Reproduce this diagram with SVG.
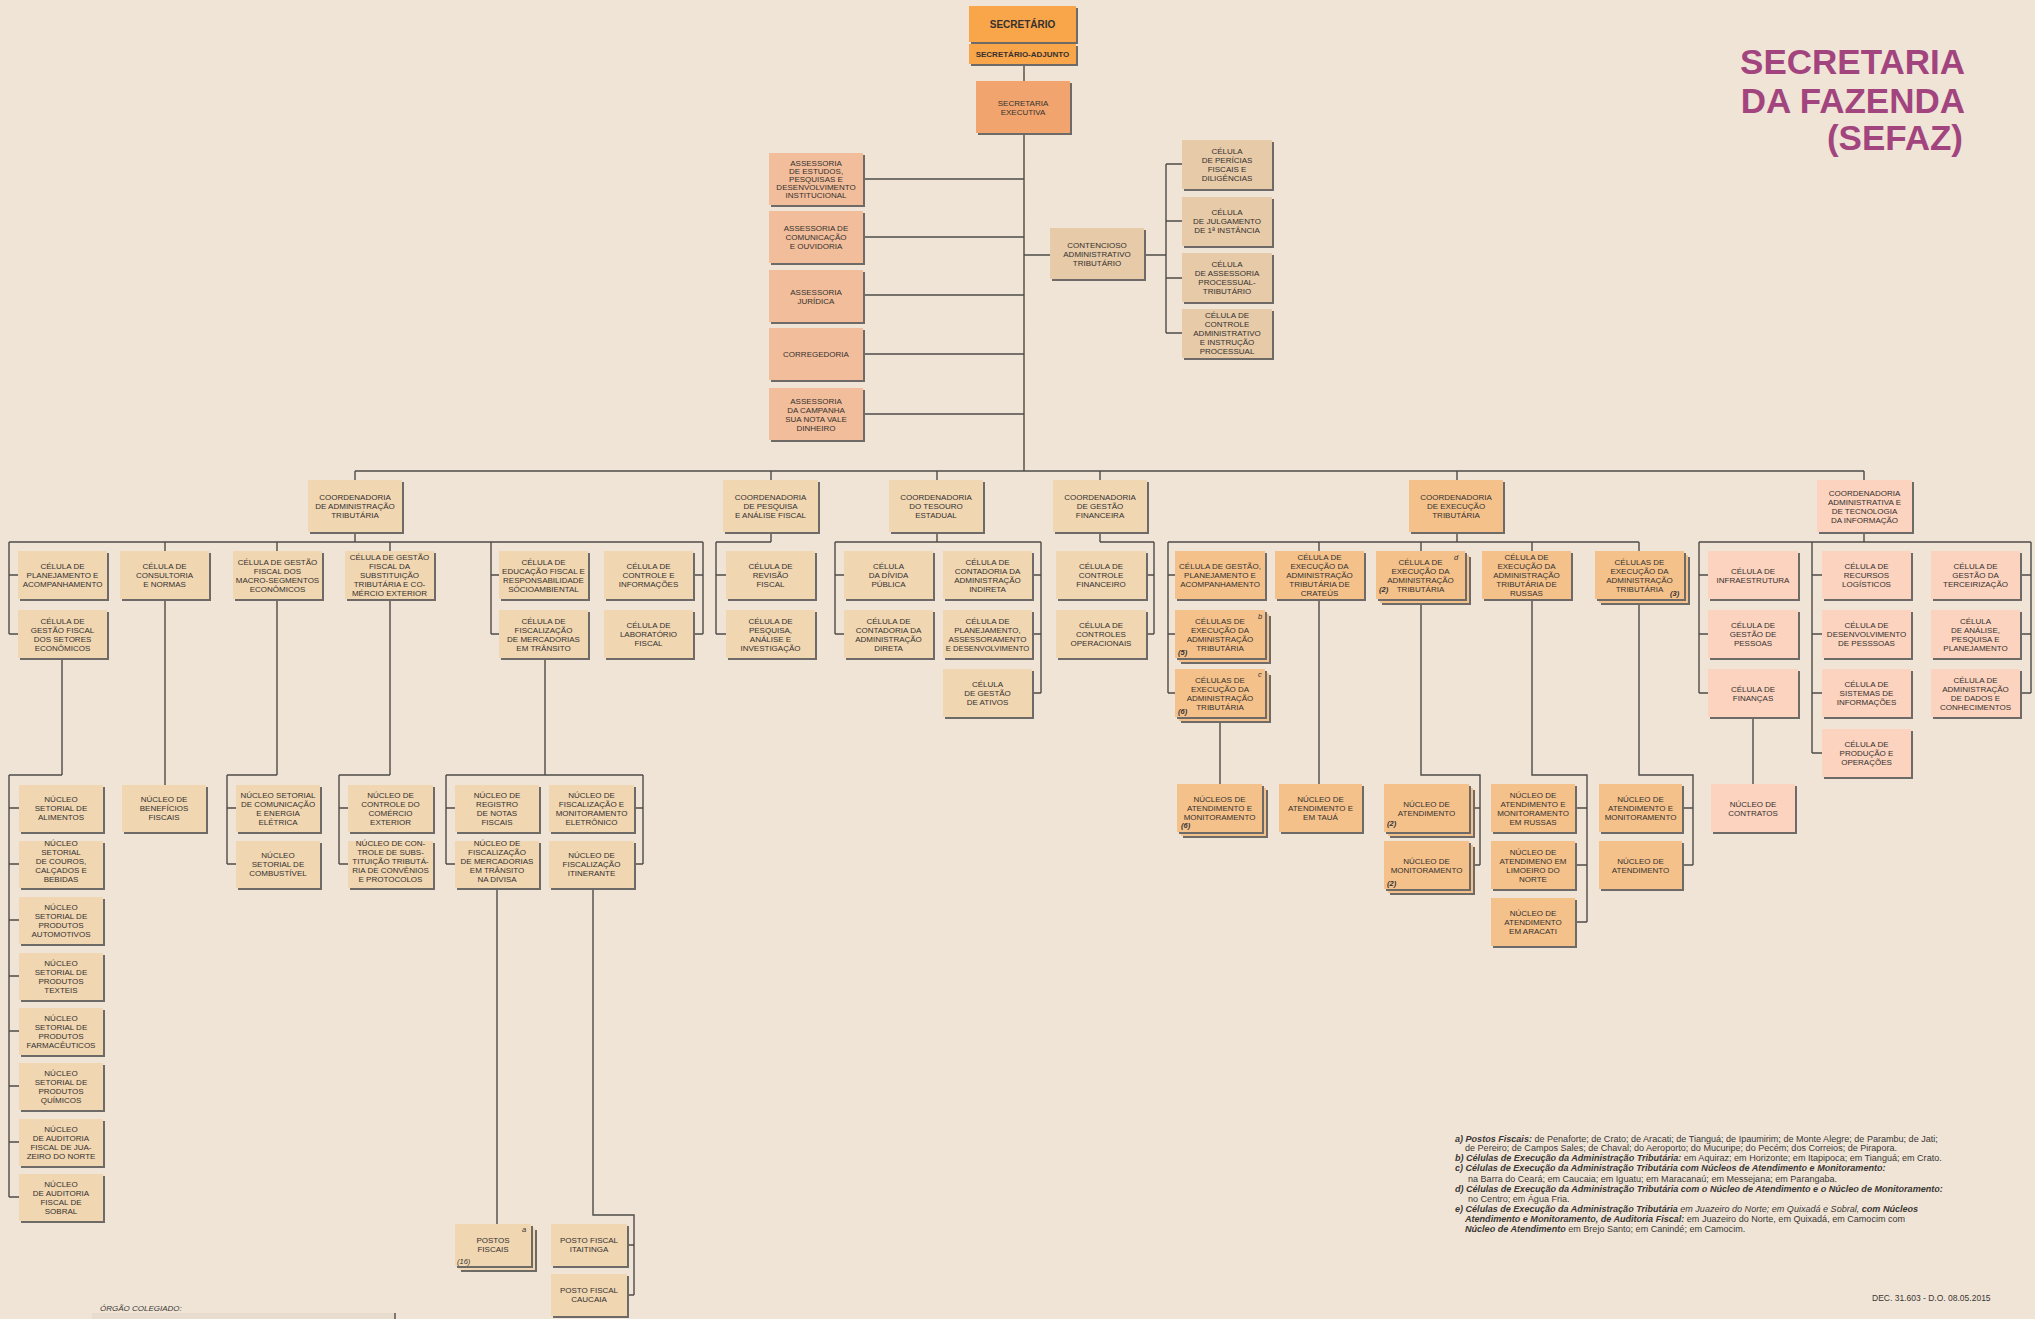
<svg xmlns="http://www.w3.org/2000/svg" width="2035" height="1319" viewBox="0 0 2035 1319">
<style>
.sh{fill:#6e6a67}
.o1{fill:#f9a54a}
.o2{fill:#f1a46d}
.pe{fill:#f2bd9a}
.tn{fill:#e7caa8}
.lt{fill:#f1d6b2}
.or{fill:#f5c18b}
.pk{fill:#fcd3be}
.t{font-family:"Liberation Sans",Arial,sans-serif;font-size:8px;fill:#34312e;text-anchor:middle}
.b{font-weight:bold}
.sup{font-family:"Liberation Sans",Arial,sans-serif;font-size:7.5px;fill:#333;font-style:italic}
.num{font-family:"Liberation Sans",Arial,sans-serif;font-size:7.5px;fill:#333;font-style:italic;font-weight:bold}
.ln{fill:none;stroke:#4f4b48;stroke-width:1.4}
.fn{font-family:"Liberation Sans",Arial,sans-serif;font-size:9.05px;fill:#3a3734}
.bi{font-weight:bold;font-style:italic}
.it{font-style:italic}
.ttl{font-family:"Liberation Sans",Arial,sans-serif;font-size:35px;font-weight:bold;fill:#a2457f;text-anchor:end}
</style>
<rect x="0" y="0" width="2035" height="1319" fill="#f0e4d6"/>

<g id="title">
<text class="ttl" x="1965" y="74">SECRETARIA</text>
<text class="ttl" x="1965" y="113">DA FAZENDA</text>
<text class="ttl" x="1963" y="150">(SEFAZ)</text>
</g>

<g id="connectors" class="ln">
<path d="M1024 64V81 M1024 133V471 M863 179H1024 M863 237H1024 M863 295H1024 M863 354H1024 M863 414H1024 M1024 255H1050 M1144 255H1166 M1166 164V333 M1166 164H1182 M1166 221H1182 M1166 278H1182 M1166 333H1182"/>
<path d="M355 471H1864 M355 471V480 M771 471V480 M937 471V480 M1100 471V480 M1457 471V480 M1864 471V480"/>
<path d="M355 532V542 M9 542H703 M9 542V634 M9 575H18 M9 634H18 M165 542V551 M277 542V551 M390 542V551 M491 542V634 M491 575H499 M491 634H499 M703 542V634 M693 575H703 M693 634H703"/>
<path d="M771 532V542 M716 542H771 M716 542V634 M716 575H726 M716 634H726"/>
<path d="M937 532V542 M835 542H1041 M835 542V634 M835 575H844 M835 634H844 M1041 542V693 M1032 575H1041 M1032 634H1041 M1032 693H1041"/>
<path d="M1100 532V542 M1100 542H1154 M1154 542V634 M1146 575H1154 M1146 634H1154"/>
<path d="M1457 532V542 M1168 542H1639 M1168 542V693 M1168 575H1175 M1168 634H1175 M1168 693H1175 M1319 542V551 M1421 542V551 M1532 542V551 M1639 542V551"/>
<path d="M1864 532V542 M1699 542H2031 M1699 542V693 M1699 575H1708 M1699 634H1708 M1699 693H1708 M1812 542V753 M1812 575H1822 M1812 634H1822 M1812 693H1822 M1812 753H1822 M2031 542V693 M2020 575H2031 M2020 634H2031 M2020 693H2031"/>
<path d="M62 658V775 M9 775H62 M9 775V1197 M9 808H19 M9 864H19 M9 920H19 M9 976H19 M9 1031H19 M9 1086H19 M9 1142H19 M9 1197H19"/>
<path d="M165 599V785 M277 599V775 M227 775H277 M227 775V864 M227 808H236 M227 864H236 M390 599V775 M339 775H390 M339 775V864 M339 808H348 M339 864H348"/>
<path d="M545 658V775 M446 775H643 M446 775V864 M446 808H455 M446 864H455 M643 775V864 M634 808H643 M634 864H643 M497 888V1224 M593 888V1215H634V1295 M627 1245H634 M627 1295H634"/>
<path d="M1220 717V784 M1319 599V784 M1421 599V775H1480V865 M1469 808H1480 M1469 865H1480 M1532 599V775H1587V922 M1575 808H1587 M1575 865H1587 M1575 922H1587 M1639 599V775H1693V865 M1682 808H1693 M1682 865H1693 M1753 717V784"/>
</g>

<g id="n-secretario"><rect class="sh" x="971" y="8" width="107" height="36"/><rect class="o1" x="969" y="6" width="107" height="36"/><text class="t b" style="font-size:10px" x="1022.5" y="27.5">SECRETÁRIO</text></g>
<g id="n-adjunto"><rect class="sh" x="971" y="46" width="107" height="20"/><rect class="o1" x="969" y="44" width="107" height="20"/><text class="t b" x="1022.5" y="57">SECRETÁRIO-ADJUNTO</text></g>
<g id="n-executiva"><rect class="sh" x="978" y="83" width="94" height="52"/><rect class="o2" x="976" y="81" width="94" height="52"/><text class="t" x="1023" y="105.5">SECRETARIA<tspan x="1023" dy="9">EXECUTIVA</tspan></text></g>

<g id="n-ass-estudos"><rect class="sh" x="771" y="155" width="94" height="52"/><rect class="pe" x="769" y="153" width="94" height="52"/><text class="t" x="816" y="166">ASSESSORIA<tspan x="816" dy="8">DE ESTUDOS,</tspan><tspan x="816" dy="8">PESQUISAS E</tspan><tspan x="816" dy="8">DESENVOLVIMENTO</tspan><tspan x="816" dy="8">INSTITUCIONAL</tspan></text></g>
<g id="n-ass-comunicacao"><rect class="sh" x="771" y="213" width="94" height="52"/><rect class="pe" x="769" y="211" width="94" height="52"/><text class="t" x="816" y="231">ASSESSORIA DE<tspan x="816" dy="9">COMUNICAÇÃO</tspan><tspan x="816" dy="9">E OUVIDORIA</tspan></text></g>
<g id="n-ass-juridica"><rect class="sh" x="771" y="272" width="94" height="52"/><rect class="pe" x="769" y="270" width="94" height="52"/><text class="t" x="816" y="294.5">ASSESSORIA<tspan x="816" dy="9">JURÍDICA</tspan></text></g>
<g id="n-corregedoria"><rect class="sh" x="771" y="330" width="94" height="52"/><rect class="pe" x="769" y="328" width="94" height="52"/><text class="t" x="816" y="357">CORREGEDORIA</text></g>
<g id="n-ass-campanha"><rect class="sh" x="771" y="390" width="94" height="52"/><rect class="pe" x="769" y="388" width="94" height="52"/><text class="t" x="816" y="403.5">ASSESSORIA<tspan x="816" dy="9">DA CAMPANHA</tspan><tspan x="816" dy="9">SUA NOTA VALE</tspan><tspan x="816" dy="9">DINHEIRO</tspan></text></g>

<g id="n-contencioso"><rect class="sh" x="1052" y="230" width="94" height="51"/><rect class="tn" x="1050" y="228" width="94" height="51"/><text class="t" x="1097" y="247.5">CONTENCIOSO<tspan x="1097" dy="9">ADMINISTRATIVO</tspan><tspan x="1097" dy="9">TRIBUTÁRIO</tspan></text></g>
<g id="n-pericias"><rect class="sh" x="1184" y="142" width="90" height="49"/><rect class="tn" x="1182" y="140" width="90" height="49"/><text class="t" x="1227" y="154">CÉLULA<tspan x="1227" dy="9">DE PERÍCIAS</tspan><tspan x="1227" dy="9">FISCAIS E</tspan><tspan x="1227" dy="9">DILIGÊNCIAS</tspan></text></g>
<g id="n-julgamento"><rect class="sh" x="1184" y="199" width="90" height="49"/><rect class="tn" x="1182" y="197" width="90" height="49"/><text class="t" x="1227" y="215.4">CÉLULA<tspan x="1227" dy="9">DE JULGAMENTO</tspan><tspan x="1227" dy="9">DE 1ª INSTÂNCIA</tspan></text></g>
<g id="n-assessoria-proc"><rect class="sh" x="1184" y="255" width="90" height="49"/><rect class="tn" x="1182" y="253" width="90" height="49"/><text class="t" x="1227" y="266.9">CÉLULA<tspan x="1227" dy="9">DE ASSESSORIA</tspan><tspan x="1227" dy="9">PROCESSUAL-</tspan><tspan x="1227" dy="9">TRIBUTÁRIO</tspan></text></g>
<g id="n-controle-adm"><rect class="sh" x="1184" y="311" width="90" height="49"/><rect class="tn" x="1182" y="309" width="90" height="49"/><text class="t" x="1227" y="318.4">CÉLULA DE<tspan x="1227" dy="9">CONTROLE</tspan><tspan x="1227" dy="9">ADMINISTRATIVO</tspan><tspan x="1227" dy="9">E INSTRUÇÃO</tspan><tspan x="1227" dy="9">PROCESSUAL</tspan></text></g>

<g id="n-cat"><rect class="sh" x="310" y="482" width="94" height="52"/><rect class="lt" x="308" y="480" width="94" height="52"/><text class="t" x="355" y="500">COORDENADORIA<tspan x="355" dy="9">DE ADMINISTRAÇÃO</tspan><tspan x="355" dy="9">TRIBUTÁRIA</tspan></text></g>
<g id="n-cpaf"><rect class="sh" x="725" y="482" width="95" height="52"/><rect class="lt" x="723" y="480" width="95" height="52"/><text class="t" x="770.5" y="500">COORDENADORIA<tspan x="770.5" dy="9">DE PESQUISA</tspan><tspan x="770.5" dy="9">E ANÁLISE FISCAL</tspan></text></g>
<g id="n-cte"><rect class="sh" x="891" y="482" width="94" height="52"/><rect class="lt" x="889" y="480" width="94" height="52"/><text class="t" x="936" y="500">COORDENADORIA<tspan x="936" dy="9">DO TESOURO</tspan><tspan x="936" dy="9">ESTADUAL</tspan></text></g>
<g id="n-cgf"><rect class="sh" x="1055" y="482" width="94" height="52"/><rect class="lt" x="1053" y="480" width="94" height="52"/><text class="t" x="1100" y="500">COORDENADORIA<tspan x="1100" dy="9">DE GESTÃO</tspan><tspan x="1100" dy="9">FINANCEIRA</tspan></text></g>
<g id="n-cet"><rect class="sh" x="1411" y="482" width="94" height="52"/><rect class="or" x="1409" y="480" width="94" height="52"/><text class="t" x="1456" y="500">COORDENADORIA<tspan x="1456" dy="9">DE EXECUÇÃO</tspan><tspan x="1456" dy="9">TRIBUTÁRIA</tspan></text></g>
<g id="n-cati"><rect class="sh" x="1819" y="482" width="95" height="52"/><rect class="pk" x="1817" y="480" width="95" height="52"/><text class="t" x="1864.5" y="495.5">COORDENADORIA<tspan x="1864.5" dy="9">ADMINISTRATIVA E</tspan><tspan x="1864.5" dy="9">DE TECNOLOGIA</tspan><tspan x="1864.5" dy="9">DA INFORMAÇÃO</tspan></text></g>

<g id="n-cat-planejamento"><rect class="sh" x="20" y="553" width="89" height="48"/><rect class="lt" x="18" y="551" width="89" height="48"/><text class="t" x="62.5" y="569">CÉLULA DE<tspan x="62.5" dy="9">PLANEJAMENTO E</tspan><tspan x="62.5" dy="9">ACOMPANHAMENTO</tspan></text></g>
<g id="n-cat-setores"><rect class="sh" x="20" y="612" width="89" height="48"/><rect class="lt" x="18" y="610" width="89" height="48"/><text class="t" x="62.5" y="623.5">CÉLULA DE<tspan x="62.5" dy="9">GESTÃO FISCAL</tspan><tspan x="62.5" dy="9">DOS SETORES</tspan><tspan x="62.5" dy="9">ECONÔMICOS</tspan></text></g>
<g id="n-cat-consultoria"><rect class="sh" x="122" y="553" width="89" height="48"/><rect class="lt" x="120" y="551" width="89" height="48"/><text class="t" x="164.5" y="569">CÉLULA DE<tspan x="164.5" dy="9">CONSULTORIA</tspan><tspan x="164.5" dy="9">E NORMAS</tspan></text></g>
<g id="n-cat-macro"><rect class="sh" x="235" y="553" width="89" height="48"/><rect class="lt" x="233" y="551" width="89" height="48"/><text class="t" x="277.5" y="564.5">CÉLULA DE GESTÃO<tspan x="277.5" dy="9">FISCAL DOS</tspan><tspan x="277.5" dy="9">MACRO-SEGMENTOS</tspan><tspan x="277.5" dy="9">ECONÔMICOS</tspan></text></g>
<g id="n-cat-substituicao"><rect class="sh" x="347" y="553" width="89" height="48"/><rect class="lt" x="345" y="551" width="89" height="48"/><text class="t" x="389.5" y="560">CÉLULA DE GESTÃO<tspan x="389.5" dy="9">FISCAL DA</tspan><tspan x="389.5" dy="9">SUBSTITUIÇÃO</tspan><tspan x="389.5" dy="9">TRIBUTÁRIA E CO-</tspan><tspan x="389.5" dy="9">MÉRCIO EXTERIOR</tspan></text></g>
<g id="n-cat-educacao"><rect class="sh" x="501" y="553" width="89" height="48"/><rect class="lt" x="499" y="551" width="89" height="48"/><text class="t" x="543.5" y="564.5">CÉLULA DE<tspan x="543.5" dy="9">EDUCAÇÃO FISCAL E</tspan><tspan x="543.5" dy="9">RESPONSABILIDADE</tspan><tspan x="543.5" dy="9">SÓCIOAMBIENTAL</tspan></text></g>
<g id="n-cat-fisc-merc"><rect class="sh" x="501" y="612" width="89" height="48"/><rect class="lt" x="499" y="610" width="89" height="48"/><text class="t" x="543.5" y="623.5">CÉLULA DE<tspan x="543.5" dy="9">FISCALIZAÇÃO</tspan><tspan x="543.5" dy="9">DE MERCADORIAS</tspan><tspan x="543.5" dy="9">EM TRÂNSITO</tspan></text></g>
<g id="n-cat-controle-info"><rect class="sh" x="606" y="553" width="89" height="48"/><rect class="lt" x="604" y="551" width="89" height="48"/><text class="t" x="648.5" y="569">CÉLULA DE<tspan x="648.5" dy="9">CONTROLE E</tspan><tspan x="648.5" dy="9">INFORMAÇÕES</tspan></text></g>
<g id="n-cat-laboratorio"><rect class="sh" x="606" y="612" width="89" height="48"/><rect class="lt" x="604" y="610" width="89" height="48"/><text class="t" x="648.5" y="628">CÉLULA DE<tspan x="648.5" dy="9">LABORATÓRIO</tspan><tspan x="648.5" dy="9">FISCAL</tspan></text></g>

<g id="n-cpaf-revisao"><rect class="sh" x="728" y="553" width="89" height="48"/><rect class="lt" x="726" y="551" width="89" height="48"/><text class="t" x="770.5" y="569">CÉLULA DE<tspan x="770.5" dy="9">REVISÃO</tspan><tspan x="770.5" dy="9">FISCAL</tspan></text></g>
<g id="n-cpaf-pesquisa"><rect class="sh" x="728" y="612" width="89" height="48"/><rect class="lt" x="726" y="610" width="89" height="48"/><text class="t" x="770.5" y="623.5">CÉLULA DE<tspan x="770.5" dy="9">PESQUISA,</tspan><tspan x="770.5" dy="9">ANÁLISE E</tspan><tspan x="770.5" dy="9">INVESTIGAÇÃO</tspan></text></g>

<g id="n-cte-divida"><rect class="sh" x="846" y="553" width="89" height="48"/><rect class="lt" x="844" y="551" width="89" height="48"/><text class="t" x="888.5" y="569">CÉLULA<tspan x="888.5" dy="9">DA DÍVIDA</tspan><tspan x="888.5" dy="9">PÚBLICA</tspan></text></g>
<g id="n-cte-direta"><rect class="sh" x="846" y="612" width="89" height="48"/><rect class="lt" x="844" y="610" width="89" height="48"/><text class="t" x="888.5" y="623.5">CÉLULA DE<tspan x="888.5" dy="9">CONTADORIA DA</tspan><tspan x="888.5" dy="9">ADMINISTRAÇÃO</tspan><tspan x="888.5" dy="9">DIRETA</tspan></text></g>
<g id="n-cte-indireta"><rect class="sh" x="945" y="553" width="89" height="48"/><rect class="lt" x="943" y="551" width="89" height="48"/><text class="t" x="987.5" y="564.5">CÉLULA DE<tspan x="987.5" dy="9">CONTADORIA DA</tspan><tspan x="987.5" dy="9">ADMINISTRAÇÃO</tspan><tspan x="987.5" dy="9">INDIRETA</tspan></text></g>
<g id="n-cte-planejamento"><rect class="sh" x="945" y="612" width="89" height="48"/><rect class="lt" x="943" y="610" width="89" height="48"/><text class="t" x="987.5" y="623.5">CÉLULA DE<tspan x="987.5" dy="9">PLANEJAMENTO,</tspan><tspan x="987.5" dy="9">ASSESSORAMENTO</tspan><tspan x="987.5" dy="9" style="font-size:7.7px">E DESENVOLVIMENTO</tspan></text></g>
<g id="n-cte-ativos"><rect class="sh" x="945" y="671" width="89" height="48"/><rect class="lt" x="943" y="669" width="89" height="48"/><text class="t" x="987.5" y="687">CÉLULA<tspan x="987.5" dy="9">DE GESTÃO</tspan><tspan x="987.5" dy="9">DE ATIVOS</tspan></text></g>

<g id="n-cgf-controle"><rect class="sh" x="1058" y="553" width="90" height="48"/><rect class="lt" x="1056" y="551" width="90" height="48"/><text class="t" x="1101" y="569">CÉLULA DE<tspan x="1101" dy="9">CONTROLE</tspan><tspan x="1101" dy="9">FINANCEIRO</tspan></text></g>
<g id="n-cgf-operacionais"><rect class="sh" x="1058" y="612" width="90" height="48"/><rect class="lt" x="1056" y="610" width="90" height="48"/><text class="t" x="1101" y="628">CÉLULA DE<tspan x="1101" dy="9">CONTROLES</tspan><tspan x="1101" dy="9">OPERACIONAIS</tspan></text></g>

<g id="n-cet-gestao"><rect class="sh" x="1177" y="553" width="90" height="48"/><rect class="or" x="1175" y="551" width="90" height="48"/><text class="t" x="1220" y="569">CÉLULA DE GESTÃO,<tspan x="1220" dy="9">PLANEJAMENTO E</tspan><tspan x="1220" dy="9">ACOMPANHAMENTO</tspan></text></g>
<g id="n-cet-b"><rect class="sh" x="1181" y="616" width="90" height="48"/><rect class="or" x="1179" y="614" width="90" height="48"/><rect class="sh" x="1177" y="612" width="90" height="48"/><rect class="or" x="1175" y="610" width="90" height="48"/><text class="t" x="1220" y="623.5">CÉLULAS DE<tspan x="1220" dy="9">EXECUÇÃO DA</tspan><tspan x="1220" dy="9">ADMINISTRAÇÃO</tspan><tspan x="1220" dy="9">TRIBUTÁRIA</tspan></text><text class="sup" x="1258" y="619">b</text><text class="num" x="1178" y="655">(5)</text></g>
<g id="n-cet-c"><rect class="sh" x="1181" y="675" width="90" height="48"/><rect class="or" x="1179" y="673" width="90" height="48"/><rect class="sh" x="1177" y="671" width="90" height="48"/><rect class="or" x="1175" y="669" width="90" height="48"/><text class="t" x="1220" y="682.5">CÉLULAS DE<tspan x="1220" dy="9">EXECUÇÃO DA</tspan><tspan x="1220" dy="9">ADMINISTRAÇÃO</tspan><tspan x="1220" dy="9">TRIBUTÁRIA</tspan></text><text class="sup" x="1258" y="677">c</text><text class="num" x="1178" y="714">(6)</text></g>
<g id="n-cet-crateus"><rect class="sh" x="1277" y="553" width="89" height="48"/><rect class="or" x="1275" y="551" width="89" height="48"/><text class="t" x="1319.5" y="560">CÉLULA DE<tspan x="1319.5" dy="9">EXECUÇÃO DA</tspan><tspan x="1319.5" dy="9">ADMINISTRAÇÃO</tspan><tspan x="1319.5" dy="9">TRIBUTÁRIA DE</tspan><tspan x="1319.5" dy="9">CRATEÚS</tspan></text></g>
<g id="n-cet-d"><rect class="sh" x="1382" y="557" width="89" height="48"/><rect class="or" x="1380" y="555" width="89" height="48"/><rect class="sh" x="1378" y="553" width="89" height="48"/><rect class="or" x="1376" y="551" width="89" height="48"/><text class="t" x="1420.5" y="564.5">CÉLULA DE<tspan x="1420.5" dy="9">EXECUÇÃO DA</tspan><tspan x="1420.5" dy="9">ADMINISTRAÇÃO</tspan><tspan x="1420.5" dy="9">TRIBUTÁRIA</tspan></text><text class="sup" x="1454" y="560">d</text><text class="num" x="1379" y="592">(2)</text></g>
<g id="n-cet-russas"><rect class="sh" x="1484" y="553" width="89" height="48"/><rect class="or" x="1482" y="551" width="89" height="48"/><text class="t" x="1526.5" y="560">CÉLULA DE<tspan x="1526.5" dy="9">EXECUÇÃO DA</tspan><tspan x="1526.5" dy="9">ADMINISTRAÇÃO</tspan><tspan x="1526.5" dy="9">TRIBUTÁRIA DE</tspan><tspan x="1526.5" dy="9">RUSSAS</tspan></text></g>
<g id="n-cet-3"><rect class="sh" x="1601" y="557" width="89" height="48"/><rect class="or" x="1599" y="555" width="89" height="48"/><rect class="sh" x="1597" y="553" width="89" height="48"/><rect class="or" x="1595" y="551" width="89" height="48"/><text class="t" x="1639.5" y="564.5">CÉLULAS DE<tspan x="1639.5" dy="9">EXECUÇÃO DA</tspan><tspan x="1639.5" dy="9">ADMINISTRAÇÃO</tspan><tspan x="1639.5" dy="9">TRIBUTÁRIA</tspan></text><text class="num" x="1670" y="596">(3)</text></g>

<g id="n-cati-infra"><rect class="sh" x="1710" y="553" width="90" height="48"/><rect class="pk" x="1708" y="551" width="90" height="48"/><text class="t" x="1753" y="573.5">CÉLULA DE<tspan x="1753" dy="9">INFRAESTRUTURA</tspan></text></g>
<g id="n-cati-pessoas"><rect class="sh" x="1710" y="612" width="90" height="48"/><rect class="pk" x="1708" y="610" width="90" height="48"/><text class="t" x="1753" y="628">CÉLULA DE<tspan x="1753" dy="9">GESTÃO DE</tspan><tspan x="1753" dy="9">PESSOAS</tspan></text></g>
<g id="n-cati-financas"><rect class="sh" x="1710" y="671" width="90" height="48"/><rect class="pk" x="1708" y="669" width="90" height="48"/><text class="t" x="1753" y="691.5">CÉLULA DE<tspan x="1753" dy="9">FINANÇAS</tspan></text></g>
<g id="n-cati-recursos"><rect class="sh" x="1824" y="553" width="89" height="48"/><rect class="pk" x="1822" y="551" width="89" height="48"/><text class="t" x="1866.5" y="569">CÉLULA DE<tspan x="1866.5" dy="9">RECURSOS</tspan><tspan x="1866.5" dy="9">LOGÍSTICOS</tspan></text></g>
<g id="n-cati-desenvolvimento"><rect class="sh" x="1824" y="612" width="89" height="48"/><rect class="pk" x="1822" y="610" width="89" height="48"/><text class="t" x="1866.5" y="628">CÉLULA DE<tspan x="1866.5" dy="9">DESENVOLVIMENTO</tspan><tspan x="1866.5" dy="9">DE PESSSOAS</tspan></text></g>
<g id="n-cati-sistemas"><rect class="sh" x="1824" y="671" width="89" height="48"/><rect class="pk" x="1822" y="669" width="89" height="48"/><text class="t" x="1866.5" y="687">CÉLULA DE<tspan x="1866.5" dy="9">SISTEMAS DE</tspan><tspan x="1866.5" dy="9">INFORMAÇÕES</tspan></text></g>
<g id="n-cati-producao"><rect class="sh" x="1824" y="731" width="89" height="48"/><rect class="pk" x="1822" y="729" width="89" height="48"/><text class="t" x="1866.5" y="747">CÉLULA DE<tspan x="1866.5" dy="9">PRODUÇÃO E</tspan><tspan x="1866.5" dy="9">OPERAÇÕES</tspan></text></g>
<g id="n-cati-terceirizacao"><rect class="sh" x="1933" y="553" width="89" height="48"/><rect class="pk" x="1931" y="551" width="89" height="48"/><text class="t" x="1975.5" y="569">CÉLULA DE<tspan x="1975.5" dy="9">GESTÃO DA</tspan><tspan x="1975.5" dy="9">TERCEIRIZAÇÃO</tspan></text></g>
<g id="n-cati-analise"><rect class="sh" x="1933" y="612" width="89" height="48"/><rect class="pk" x="1931" y="610" width="89" height="48"/><text class="t" x="1975.5" y="623.5">CÉLULA<tspan x="1975.5" dy="9">DE ANÁLISE,</tspan><tspan x="1975.5" dy="9">PESQUISA E</tspan><tspan x="1975.5" dy="9">PLANEJAMENTO</tspan></text></g>
<g id="n-cati-dados"><rect class="sh" x="1933" y="671" width="89" height="48"/><rect class="pk" x="1931" y="669" width="89" height="48"/><text class="t" x="1975.5" y="682.5">CÉLULA DE<tspan x="1975.5" dy="9">ADMINISTRAÇÃO</tspan><tspan x="1975.5" dy="9">DE DADOS E</tspan><tspan x="1975.5" dy="9">CONHECIMENTOS</tspan></text></g>

<g id="n-nuc-alimentos"><rect class="sh" x="21" y="787" width="84" height="47"/><rect class="lt" x="19" y="785" width="84" height="47"/><text class="t" x="61" y="802.4">NÚCLEO<tspan x="61" dy="9">SETORIAL DE</tspan><tspan x="61" dy="9">ALIMENTOS</tspan></text></g>
<g id="n-nuc-couros"><rect class="sh" x="21" y="843" width="84" height="47"/><rect class="lt" x="19" y="841" width="84" height="47"/><text class="t" x="61" y="846.4">NÚCLEO<tspan x="61" dy="9">SETORIAL</tspan><tspan x="61" dy="9">DE COUROS,</tspan><tspan x="61" dy="9">CALÇADOS E</tspan><tspan x="61" dy="9">BEBIDAS</tspan></text></g>
<g id="n-nuc-automotivos"><rect class="sh" x="21" y="899" width="84" height="47"/><rect class="lt" x="19" y="897" width="84" height="47"/><text class="t" x="61" y="909.9">NÚCLEO<tspan x="61" dy="9">SETORIAL DE</tspan><tspan x="61" dy="9">PRODUTOS</tspan><tspan x="61" dy="9">AUTOMOTIVOS</tspan></text></g>
<g id="n-nuc-texteis"><rect class="sh" x="21" y="955" width="84" height="47"/><rect class="lt" x="19" y="953" width="84" height="47"/><text class="t" x="61" y="965.9">NÚCLEO<tspan x="61" dy="9">SETORIAL DE</tspan><tspan x="61" dy="9">PRODUTOS</tspan><tspan x="61" dy="9">TEXTEIS</tspan></text></g>
<g id="n-nuc-farmaceuticos"><rect class="sh" x="21" y="1010" width="84" height="47"/><rect class="lt" x="19" y="1008" width="84" height="47"/><text class="t" x="61" y="1020.9">NÚCLEO<tspan x="61" dy="9">SETORIAL DE</tspan><tspan x="61" dy="9">PRODUTOS</tspan><tspan x="61" dy="9">FARMACÊUTICOS</tspan></text></g>
<g id="n-nuc-quimicos"><rect class="sh" x="21" y="1065" width="84" height="47"/><rect class="lt" x="19" y="1063" width="84" height="47"/><text class="t" x="61" y="1075.9">NÚCLEO<tspan x="61" dy="9">SETORIAL DE</tspan><tspan x="61" dy="9">PRODUTOS</tspan><tspan x="61" dy="9">QUÍMICOS</tspan></text></g>
<g id="n-nuc-juazeiro"><rect class="sh" x="21" y="1121" width="84" height="47"/><rect class="lt" x="19" y="1119" width="84" height="47"/><text class="t" x="61" y="1131.9">NÚCLEO<tspan x="61" dy="9">DE AUDITORIA</tspan><tspan x="61" dy="9">FISCAL DE JUA-</tspan><tspan x="61" dy="9">ZEIRO DO NORTE</tspan></text></g>
<g id="n-nuc-sobral"><rect class="sh" x="21" y="1176" width="84" height="47"/><rect class="lt" x="19" y="1174" width="84" height="47"/><text class="t" x="61" y="1186.9">NÚCLEO<tspan x="61" dy="9">DE AUDITORIA</tspan><tspan x="61" dy="9">FISCAL DE</tspan><tspan x="61" dy="9">SOBRAL</tspan></text></g>
<g id="n-nuc-beneficios"><rect class="sh" x="124" y="787" width="84" height="47"/><rect class="lt" x="122" y="785" width="84" height="47"/><text class="t" x="164" y="802.4">NÚCLEO DE<tspan x="164" dy="9">BENEFÍCIOS</tspan><tspan x="164" dy="9">FISCAIS</tspan></text></g>
<g id="n-nuc-comunicacao"><rect class="sh" x="238" y="787" width="84" height="47"/><rect class="lt" x="236" y="785" width="84" height="47"/><text class="t" x="278" y="797.9">NÚCLEO SETORIAL<tspan x="278" dy="9">DE COMUNICAÇÃO</tspan><tspan x="278" dy="9">E ENERGIA</tspan><tspan x="278" dy="9">ELÉTRICA</tspan></text></g>
<g id="n-nuc-combustivel"><rect class="sh" x="238" y="843" width="84" height="47"/><rect class="lt" x="236" y="841" width="84" height="47"/><text class="t" x="278" y="858.4">NÚCLEO<tspan x="278" dy="9">SETORIAL DE</tspan><tspan x="278" dy="9">COMBUSTÍVEL</tspan></text></g>
<g id="n-nuc-comercio"><rect class="sh" x="350" y="787" width="85" height="47"/><rect class="lt" x="348" y="785" width="85" height="47"/><text class="t" x="390.5" y="797.9">NÚCLEO DE<tspan x="390.5" dy="9">CONTROLE DO</tspan><tspan x="390.5" dy="9">COMÉRCIO</tspan><tspan x="390.5" dy="9">EXTERIOR</tspan></text></g>
<g id="n-nuc-subst"><rect class="sh" x="350" y="843" width="85" height="47"/><rect class="lt" x="348" y="841" width="85" height="47"/><text class="t" x="390.5" y="846.4">NÚCLEO DE CON-<tspan x="390.5" dy="9">TROLE DE SUBS-</tspan><tspan x="390.5" dy="9">TITUIÇÃO TRIBUTÁ-</tspan><tspan x="390.5" dy="9">RIA DE CONVÊNIOS</tspan><tspan x="390.5" dy="9">E PROTOCOLOS</tspan></text></g>
<g id="n-nuc-registro"><rect class="sh" x="457" y="787" width="84" height="47"/><rect class="lt" x="455" y="785" width="84" height="47"/><text class="t" x="497" y="797.9">NÚCLEO DE<tspan x="497" dy="9">REGISTRO</tspan><tspan x="497" dy="9">DE NOTAS</tspan><tspan x="497" dy="9">FISCAIS</tspan></text></g>
<g id="n-nuc-divisa"><rect class="sh" x="457" y="843" width="84" height="47"/><rect class="lt" x="455" y="841" width="84" height="47"/><text class="t" x="497" y="846.4">NÚCLEO DE<tspan x="497" dy="9">FISCALIZAÇÃO</tspan><tspan x="497" dy="9">DE MERCADORIAS</tspan><tspan x="497" dy="9">EM TRÂNSITO</tspan><tspan x="497" dy="9">NA DIVISA</tspan></text></g>
<g id="n-nuc-eletronico"><rect class="sh" x="551" y="787" width="85" height="47"/><rect class="lt" x="549" y="785" width="85" height="47"/><text class="t" x="591.5" y="797.9">NÚCLEO DE<tspan x="591.5" dy="9">FISCALIZAÇÃO E</tspan><tspan x="591.5" dy="9">MONITORAMENTO</tspan><tspan x="591.5" dy="9">ELETRÔNICO</tspan></text></g>
<g id="n-nuc-itinerante"><rect class="sh" x="551" y="843" width="85" height="47"/><rect class="lt" x="549" y="841" width="85" height="47"/><text class="t" x="591.5" y="858.4">NÚCLEO DE<tspan x="591.5" dy="9">FISCALIZAÇÃO</tspan><tspan x="591.5" dy="9">ITINERANTE</tspan></text></g>
<g id="n-postos"><rect class="sh" x="461" y="1230" width="76" height="42"/><rect class="lt" x="459" y="1228" width="76" height="42"/><rect class="sh" x="457" y="1226" width="76" height="42"/><rect class="lt" x="455" y="1224" width="76" height="42"/><text class="t" x="493" y="1243.4">POSTOS<tspan x="493" dy="9">FISCAIS</tspan></text><text class="sup" x="522" y="1232">a</text><text class="sup" x="457" y="1264">(16)</text></g>
<g id="n-itaitinga"><rect class="sh" x="553" y="1226" width="76" height="42"/><rect class="lt" x="551" y="1224" width="76" height="42"/><text class="t" x="589" y="1243.4">POSTO FISCAL<tspan x="589" dy="9">ITAITINGA</tspan></text></g>
<g id="n-caucaia"><rect class="sh" x="553" y="1276" width="76" height="42"/><rect class="lt" x="551" y="1274" width="76" height="42"/><text class="t" x="589" y="1293.4">POSTO FISCAL<tspan x="589" dy="9">CAUCAIA</tspan></text></g>

<g id="n-nuc-6"><rect class="sh" x="1183" y="790" width="85" height="48"/><rect class="or" x="1181" y="788" width="85" height="48"/><rect class="sh" x="1179" y="786" width="85" height="48"/><rect class="or" x="1177" y="784" width="85" height="48"/><text class="t" x="1219.5" y="802">NÚCLEOS DE<tspan x="1219.5" dy="9">ATENDIMENTO E</tspan><tspan x="1219.5" dy="9">MONITORAMENTO</tspan></text><text class="num" x="1181" y="828">(6)</text></g>
<g id="n-nuc-taua"><rect class="sh" x="1281" y="786" width="83" height="48"/><rect class="or" x="1279" y="784" width="83" height="48"/><text class="t" x="1320.5" y="802">NÚCLEO DE<tspan x="1320.5" dy="9">ATENDIMENTO E</tspan><tspan x="1320.5" dy="9">EM TAUÁ</tspan></text></g>
<g id="n-nuc-atend-2"><rect class="sh" x="1390" y="790" width="85" height="48"/><rect class="or" x="1388" y="788" width="85" height="48"/><rect class="sh" x="1386" y="786" width="85" height="48"/><rect class="or" x="1384" y="784" width="85" height="48"/><text class="t" x="1426.5" y="806.5">NÚCLEO DE<tspan x="1426.5" dy="9">ATENDIMENTO</tspan></text><text class="num" x="1387" y="826">(2)</text></g>
<g id="n-nuc-monit-2"><rect class="sh" x="1390" y="847" width="85" height="48"/><rect class="or" x="1388" y="845" width="85" height="48"/><rect class="sh" x="1386" y="843" width="85" height="48"/><rect class="or" x="1384" y="841" width="85" height="48"/><text class="t" x="1426.5" y="863.5">NÚCLEO DE<tspan x="1426.5" dy="9">MONITORAMENTO</tspan></text><text class="num" x="1387" y="886">(2)</text></g>
<g id="n-nuc-russas"><rect class="sh" x="1493" y="786" width="84" height="48"/><rect class="or" x="1491" y="784" width="84" height="48"/><text class="t" x="1533" y="797.5">NÚCLEO DE<tspan x="1533" dy="9">ATENDIMENTO E</tspan><tspan x="1533" dy="9">MONITORAMENTO</tspan><tspan x="1533" dy="9">EM RUSSAS</tspan></text></g>
<g id="n-nuc-limoeiro"><rect class="sh" x="1493" y="843" width="84" height="48"/><rect class="or" x="1491" y="841" width="84" height="48"/><text class="t" x="1533" y="854.5">NÚCLEO DE<tspan x="1533" dy="9">ATENDIMENO EM</tspan><tspan x="1533" dy="9">LIMOEIRO DO</tspan><tspan x="1533" dy="9">NORTE</tspan></text></g>
<g id="n-nuc-aracati"><rect class="sh" x="1493" y="900" width="84" height="48"/><rect class="or" x="1491" y="898" width="84" height="48"/><text class="t" x="1533" y="916">NÚCLEO DE<tspan x="1533" dy="9">ATENDIMENTO</tspan><tspan x="1533" dy="9">EM ARACATI</tspan></text></g>
<g id="n-nuc-atend-mon"><rect class="sh" x="1601" y="786" width="83" height="48"/><rect class="or" x="1599" y="784" width="83" height="48"/><text class="t" x="1640.5" y="802">NÚCLEO DE<tspan x="1640.5" dy="9">ATENDIMENTO E</tspan><tspan x="1640.5" dy="9">MONITORAMENTO</tspan></text></g>
<g id="n-nuc-atend"><rect class="sh" x="1601" y="843" width="83" height="48"/><rect class="or" x="1599" y="841" width="83" height="48"/><text class="t" x="1640.5" y="863.5">NÚCLEO DE<tspan x="1640.5" dy="9">ATENDIMENTO</tspan></text></g>
<g id="n-nuc-contratos"><rect class="sh" x="1713" y="786" width="84" height="48"/><rect class="pk" x="1711" y="784" width="84" height="48"/><text class="t" x="1753" y="806.5">NÚCLEO DE<tspan x="1753" dy="9">CONTRATOS</tspan></text></g>

<g id="orgao-colegiado">
<text class="fn it" style="font-size:8px" x="100" y="1311">ÓRGÃO COLEGIADO:</text>
<rect x="92" y="1313" width="303" height="6" fill="#e8dccf"/>
<path class="ln" d="M395 1313V1319"/>
</g>

<g id="footnotes">
<text class="fn" x="1455" y="1142"><tspan class="bi">a) Postos Fiscais:</tspan> de Penaforte;  de Crato; de Aracati; de Tianguá; de Ipaumirim; de Monte Alegre; de Parambu; de Jati;</text>
<text class="fn" x="1465" y="1151">de Pereiro; de Campos Sales; de Chaval; do Aeroporto; do Mucuripe; do Pecém; dos Correios; de Pirapora.</text>
<text class="fn" x="1455" y="1161"><tspan class="bi">b) Células de Execução da Administração Tributária:</tspan> em Aquiraz; em Horizonte; em Itapipoca; em Tianguá; em Crato.</text>
<text class="fn bi" x="1455" y="1171">c) Células de Execução da Administração Tributária com Núcleos de Atendimento e Monitoramento:</text>
<text class="fn" x="1468" y="1182">na Barra do Ceará; em Caucaia; em Iguatu; em Maracanaú; em Messejana; em Parangaba.</text>
<text class="fn bi" x="1455" y="1192">d) Células de Execução da Administração Tributária com o Núcleo de Atendimento e o Núcleo de Monitoramento:</text>
<text class="fn" x="1468" y="1202">no Centro; em Água Fria.</text>
<text class="fn" x="1455" y="1212"><tspan class="bi">e) Células de Execução da Administração Tributária</tspan><tspan class="it"> em Juazeiro do Norte; em Quixadá e Sobral,</tspan><tspan class="bi"> com Núcleos</tspan></text>
<text class="fn" x="1465" y="1222"><tspan class="bi">Atendimento e Monitoramento, de Auditoria Fiscal:</tspan> em Juazeiro do Norte, em Quixadá, em Camocim com</text>
<text class="fn" x="1465" y="1232"><tspan class="bi">Núcleo de Atendimento</tspan> em Brejo Santo; em Canindé; em Camocim.</text>
<text class="fn" style="font-size:8.5px" x="1872" y="1301">DEC. 31.603 - D.O. 08.05.2015</text>
</g>
</svg>
